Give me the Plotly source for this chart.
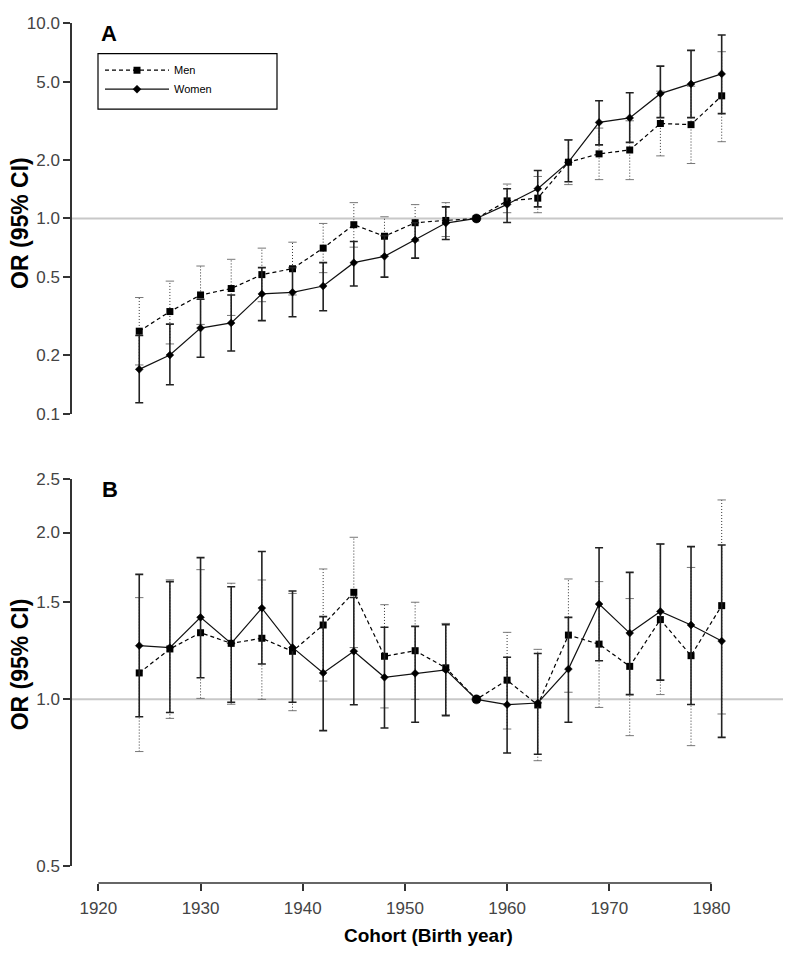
import plotly.graph_objects as go

# ---------------- data ----------------
cohort = [1924, 1927, 1930, 1933, 1936, 1939, 1942, 1945, 1948, 1951,
          1954, 1957, 1960, 1963, 1966, 1969, 1972, 1975, 1978, 1981]
reference_cohort = 1957

# Panel A
men_a = [0.265, 0.334, 0.406, 0.438, 0.516, 0.553, 0.705, 0.929, 0.811, 0.951,
         0.977, 1.0, 1.23, 1.27, 1.94, 2.14, 2.24, 3.06, 3.02, 4.24]
men_a_lo = [0.178, 0.228, 0.287, 0.319, 0.375, 0.406, 0.528, 0.713, 0.644, 0.766,
            0.808, None, 1.07, 1.07, 1.49, 1.58, 1.58, 2.09, 1.91, 2.47]
men_a_hi = [0.394, 0.478, 0.571, 0.618, 0.705, 0.756, 0.943, 1.205, 1.02, 1.177,
            1.205, None, 1.50, 1.64, 2.53, 2.90, 3.16, 4.48, 4.75, 7.13]
women_a = [0.169, 0.200, 0.275, 0.292, 0.411, 0.419, 0.451, 0.594, 0.640, 0.777,
           0.947, 1.0, 1.18, 1.42, 1.94, 3.10, 3.27, 4.35, 4.88, 5.49]
women_a_lo = [0.114, 0.141, 0.195, 0.210, 0.300, 0.314, 0.337, 0.451, 0.501, 0.627,
              0.780, 1.0, 0.954, 1.146, 1.54, 2.38, 2.45, 3.28, 3.28, 3.44]
women_a_hi = [0.252, 0.288, 0.386, 0.406, 0.560, 0.560, 0.594, 0.762, 0.817, 0.951,
              1.146, 1.0, 1.42, 1.76, 2.52, 4.00, 4.40, 6.02, 7.24, 8.68]

# Panel B
men_b = [1.116, 1.233, 1.319, 1.262, 1.289, 1.221, 1.362, 1.560, 1.196, 1.224,
         1.140, 1.0, 1.083, 0.977, 1.306, 1.258, 1.147, 1.393, 1.199, 1.476]
men_b_lo = [0.805, 0.924, 1.004, 0.980, 1.000, 0.954, 1.079, 1.240, 0.965, 1.000,
            0.938, None, 0.884, 0.775, 1.030, 0.967, 0.860, 1.020, 0.825, 0.941]
men_b_hi = [1.526, 1.643, 1.714, 1.620, 1.642, 1.553, 1.719, 1.961, 1.482, 1.497,
            1.371, None, 1.321, 1.231, 1.649, 1.631, 1.520, 1.907, 1.730, 2.290]
women_b = [1.250, 1.240, 1.406, 1.262, 1.461, 1.241, 1.116, 1.221, 1.096, 1.114,
           1.130, 1.0, 0.978, 0.985, 1.134, 1.486, 1.317, 1.441, 1.362, 1.274]
women_b_lo = [0.930, 0.947, 1.094, 0.988, 1.158, 0.988, 0.878, 0.978, 0.888, 0.909,
              0.934, 1.0, 0.800, 0.796, 0.909, 1.174, 1.020, 1.083, 0.979, 0.854]
women_b_hi = [1.681, 1.631, 1.802, 1.597, 1.848, 1.569, 1.410, 1.527, 1.349, 1.354,
              1.364, 1.0, 1.191, 1.210, 1.406, 1.878, 1.695, 1.907, 1.886, 1.899]

ticks_a = [0.1, 0.2, 0.5, 1.0, 2.0, 5.0, 10.0]
ticks_a_text = ["0.1", "0.2", "0.5", "1.0", "2.0", "5.0", "10.0"]
ticks_b = [0.5, 1.0, 1.5, 2.0, 2.5]
ticks_b_text = ["0.5", "1.0", "1.5", "2.0", "2.5"]
xticks = [1920, 1930, 1940, 1950, 1960, 1970, 1980]

FONT = "Liberation Sans, Arial, sans-serif"
W, H = 791, 956
OFF = 8  # page body margin
# target page-pixel positions
LEFT, RIGHT, TOP, XAX = 72, 783, 14, 883
ML = LEFT - OFF
MR = W - (RIGHT - OFF)
MT = TOP - OFF
MB = H - (XAX - OFF)
PW, PH = W - ML - MR, H - MT - MB


def px_x(p):
    return (p - OFF - ML) / PW


def px_y(p):
    return (H - MB - (p - OFF)) / PH


fig = go.Figure()

women_sizes = [9 if c == reference_cohort else 6 for c in cohort]
women_symbols = ["circle" if c == reference_cohort else "diamond" for c in cohort]


def add_panel(xa, ya, men, mlo, mhi, wom, wlo, whi, legend):
    # men dotted CIs
    sx, sy, cx, cy = [], [], [], []
    for c, lo, hi in zip(cohort, mlo, mhi):
        if lo is None:
            continue
        sx += [c, c, None]
        sy += [lo, hi, None]
        cx += [c, c]
        cy += [lo, hi]
    fig.add_trace(go.Scatter(x=sx, y=sy, mode="lines", xaxis=xa, yaxis=ya,
                             line=dict(color="#333", width=1, dash="1px,2px"),
                             showlegend=False, hoverinfo="skip"))
    fig.add_trace(go.Scatter(x=cx, y=cy, mode="markers", xaxis=xa, yaxis=ya,
                             marker=dict(symbol="line-ew", size=6,
                                         line=dict(color="#777", width=1)),
                             showlegend=False, hoverinfo="skip"))
    # men dashed
    fig.add_trace(go.Scatter(
        x=cohort, y=men, mode="lines+markers", name="Men", xaxis=xa, yaxis=ya,
        line=dict(color="#000", width=1.2, dash="4px,3px"),
        marker=dict(symbol="square", size=7, color="#000",
                    line=dict(color="#000", width=0)),
        showlegend=legend, legendrank=1))
    # women solid with CIs
    fig.add_trace(go.Scatter(
        x=cohort, y=wom, mode="lines+markers", name="Women", xaxis=xa, yaxis=ya,
        line=dict(color="#111", width=1.2),
        marker=dict(symbol=women_symbols, size=women_sizes, color="#000",
                    opacity=1, line=dict(color="#000", width=0.5)),
        error_y=dict(type="data", symmetric=False,
                     array=[h - v for h, v in zip(whi, wom)],
                     arrayminus=[v - l for v, l in zip(wom, wlo)],
                     color="#222", thickness=1.6, width=4),
        showlegend=legend, legendrank=2))


add_panel("x", "y", men_a, men_a_lo, men_a_hi, women_a, women_a_lo, women_a_hi, True)
add_panel("x2", "y2", men_b, men_b_lo, men_b_hi, women_b, women_b_lo, women_b_hi, False)

xr = [1917.42, 1987.0]
yaxis_common = dict(type="log", showline=True, linecolor="#333", linewidth=1.5,
                    ticks="outside", ticklen=7, tickwidth=1.5, tickcolor="#333",
                    showgrid=False, zeroline=False,
                    tickfont=dict(family=FONT, size=17, color="#444"))

fig.update_layout(
    width=W, height=H,
    margin=dict(l=ML, r=MR, t=MT, b=MB),
    paper_bgcolor="white", plot_bgcolor="white",
    font=dict(family=FONT, color="#000"),
    xaxis=dict(domain=[0, 1], range=xr, anchor="y", visible=False),
    yaxis=dict(domain=[px_y(409), 1.0], range=[-1, 1], anchor="x",
               tickvals=ticks_a, ticktext=ticks_a_text, **yaxis_common),
    xaxis2=dict(domain=[0, 1], range=xr, anchor="free", position=0,
                showline=False, showgrid=False, zeroline=False,
                ticks="outside", ticklen=7, tickwidth=1.5, tickcolor="#333",
                tickvals=xticks, ticklabelstandoff=3,
                tickfont=dict(family=FONT, size=17, color="#444")),
    yaxis2=dict(domain=[px_y(866), px_y(474.6)], range=[-0.30103, 0.39794],
                anchor="x2", tickvals=ticks_b, ticktext=ticks_b_text, **yaxis_common),
    legend=dict(x=px_x(100), y=px_y(47), xanchor="left", yanchor="top",
                bgcolor="rgba(0,0,0,0)", borderwidth=0, itemwidth=64,
                font=dict(family=FONT, size=11, color="#000"),
                traceorder="normal"),
    shapes=[
        dict(type="line", xref="paper", x0=0, x1=1, yref="y", y0=1, y1=1,
             line=dict(color="#c8c8c8", width=2), layer="below"),
        dict(type="line", xref="paper", x0=0, x1=1, yref="y2", y0=1, y1=1,
             line=dict(color="#c8c8c8", width=2), layer="below"),
        dict(type="line", xref="x2", x0=1920, x1=1980, yref="paper", y0=0, y1=0,
             line=dict(color="#333", width=1.5)),
        dict(type="rect", xref="paper", yref="paper",
             x0=px_x(98), x1=px_x(277), y0=px_y(101), y1=px_y(45),
             line=dict(color="#000", width=1.2)),
    ],
    annotations=[
        dict(text="<b>A</b>", xref="paper", yref="paper", x=px_x(109), y=px_y(25),
             xanchor="center", yanchor="middle",
             showarrow=False, font=dict(family=FONT, size=22, color="#000")),
        dict(text="<b>B</b>", xref="paper", yref="paper", x=px_x(110), y=px_y(485),
             xanchor="center", yanchor="middle",
             showarrow=False, font=dict(family=FONT, size=22, color="#000")),
        dict(text="<b>OR (95% CI)</b>", xref="paper", yref="paper", x=px_x(20), y=px_y(216),
             xanchor="center", yanchor="middle",
             textangle=-90, showarrow=False, font=dict(family=FONT, size=23, color="#000")),
        dict(text="<b>OR (95% CI)</b>", xref="paper", yref="paper", x=px_x(20), y=px_y(662),
             xanchor="center", yanchor="middle",
             textangle=-90, showarrow=False, font=dict(family=FONT, size=23, color="#000")),
        dict(text="<b>Cohort (Birth year)</b>", xref="paper", yref="paper", x=px_x(428), y=px_y(936),
             xanchor="center", yanchor="middle",
             showarrow=False, font=dict(family=FONT, size=19, color="#000")),
    ],
)

fig.write_html("out.html")
